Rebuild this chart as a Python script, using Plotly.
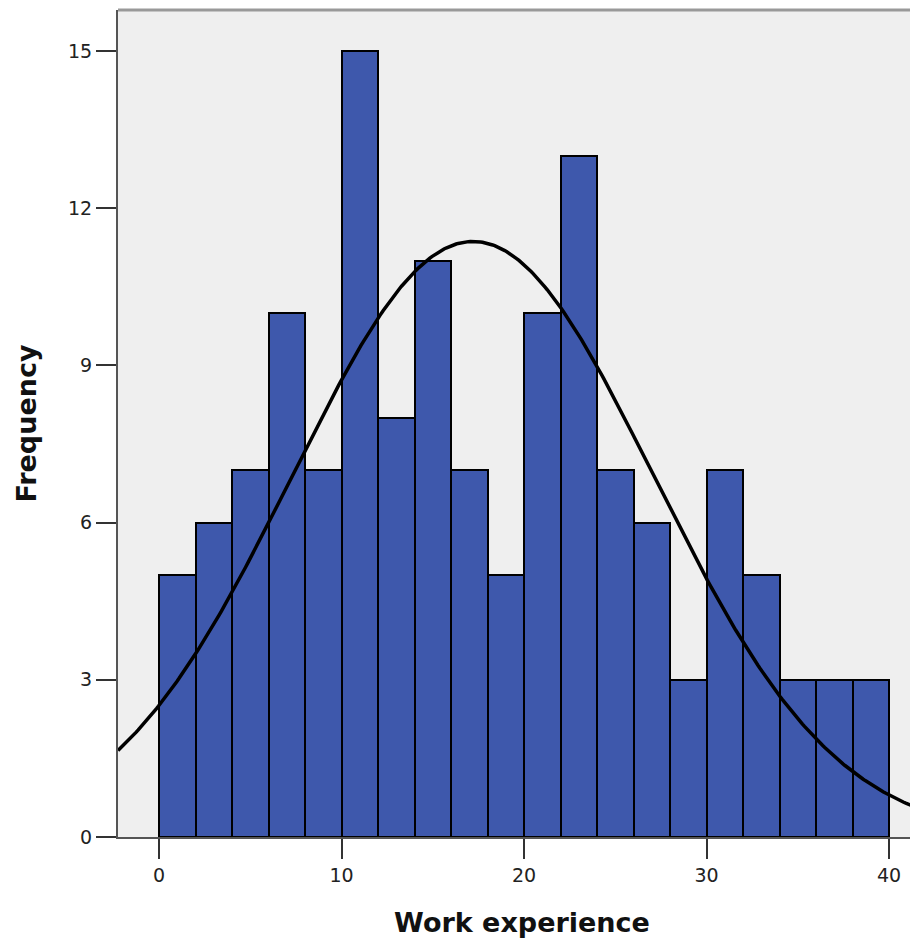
import numpy as np
import plotly.graph_objects as go

bin_starts = [0, 2, 4, 6, 8, 10, 12, 14, 16, 18, 20, 22, 24, 26, 28, 30, 32, 34, 36, 38]
frequencies = [5, 6, 7, 10, 7, 15, 8, 11, 7, 5, 10, 13, 7, 6, 3, 7, 5, 3, 3, 3]
bin_width = 2
curve_mean = 17.2
curve_sd = 9.9
x_ticks = [0, 10, 20, 30, 40]
y_ticks = [0, 3, 6, 9, 12, 15]

n_total = sum(frequencies)
centers = [s + bin_width / 2 for s in bin_starts]

fig_w = 918
left_m = 110
xr = [-2.25, -2.25 + (fig_w - left_m) / 18.25]
xs = np.linspace(xr[0], xr[1], 400)
ys = n_total * bin_width / (curve_sd * np.sqrt(2 * np.pi)) * np.exp(-0.5 * ((xs - curve_mean) / curve_sd) ** 2)

fig = go.Figure()
fig.add_trace(go.Bar(
    x=centers, y=frequencies, width=[bin_width] * len(centers),
    marker=dict(color="#3e58ac", line=dict(color="#000000", width=2)),
    hoverinfo="x+y", showlegend=False,
))
fig.add_trace(go.Scatter(
    x=xs, y=ys, mode="lines", line=dict(color="#000000", width=3.5),
    showlegend=False, hoverinfo="skip",
))

font_family = "DejaVu Sans, Verdana, sans-serif"
fig.update_layout(
    width=fig_w, height=932,
    margin=dict(l=left_m, r=0, t=2, b=103),
    paper_bgcolor="#ffffff", plot_bgcolor="#efefef",
    bargap=0,
    font=dict(family=font_family, color="#222222"),
    xaxis=dict(
        range=xr, tickvals=x_ticks, ticks="outside", ticklen=20, tickwidth=2,
        tickcolor="#333333", showgrid=False, zeroline=False,
        showline=True, linecolor="#555555", linewidth=2,
        tickfont=dict(size=19, family=font_family, color="#222222"),
        title=dict(text="<b>Work experience</b>", font=dict(size=27, family=font_family, color="#111111"), standoff=28),
    ),
    yaxis=dict(
        range=[0, 15.78], tickvals=y_ticks, ticks="outside", ticklen=20, tickwidth=2,
        tickcolor="#333333", showgrid=False, zeroline=False,
        showline=True, linecolor="#555555", linewidth=2,
        tickfont=dict(size=19, family=font_family, color="#222222"),
        title=dict(text="<b>Frequency</b>", font=dict(size=27, family=font_family, color="#111111"), standoff=24),
    ),
    shapes=[dict(type="line", xref="paper", yref="paper", x0=0, x1=1, y0=1, y1=1,
                 line=dict(color="#999999", width=3))],
)

fig.write_html("out.html")
